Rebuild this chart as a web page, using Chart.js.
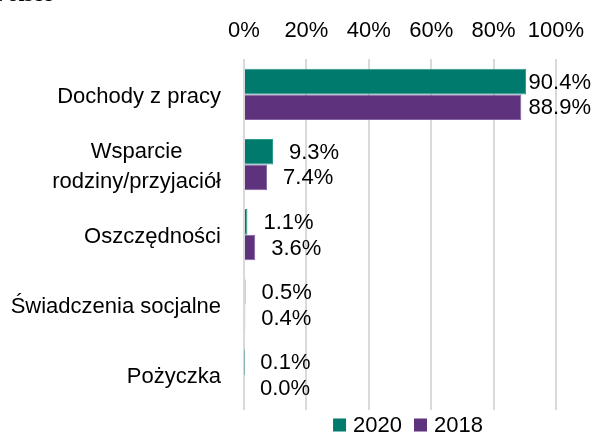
<!DOCTYPE html>
<html>
<head>
<meta charset="utf-8">
<script src="https://cdn.jsdelivr.net/npm/chart.js@4/dist/chart.umd.min.js"></script>
<style>
  html, body { margin: 0; padding: 0; background: #fff; }
  #wrap { width: 595px; height: 435px; }
</style>
</head>
<body>
<div id="wrap"><canvas id="chart" width="595" height="435"></canvas></div>
<script>
// categories (multi-line labels as arrays)
const categories = [
    ['Dochody z pracy'],
    ['Wsparcie', 'rodziny/przyjaciół'],
    ['Oszczędności'],
    ['Świadczenia socjalne'],
    ['Pożyczka']
];
const seriesNames = ['2020', '2018'];
const values2020 = [90.4, 9.3, 1.1, 0.5, 0.1];
const values2018 = [88.9, 7.4, 3.6, 0.4, 0.0];
const xTicks = [0, 20, 40, 60, 80, 100];

const colors = ['#007A6D', '#5E327D'];
const FONT = "'Liberation Sans', Arial, sans-serif";
const FONT_SIZE = 22;

// draws category labels, value labels, legend and the clipped heading
const labelsPlugin = {
    id: 'labels',
    afterDatasetsDraw(chart) {
        const ctx = chart.ctx;
        const area = chart.chartArea;
        const yScale = chart.scales.y;
        ctx.save();
        ctx.fillStyle = '#000';

        // heading, cut off at the top of the picture
        ctx.font = "bold 22px 'Liberation Serif', serif";
        ctx.textAlign = 'left';
        ctx.textBaseline = 'alphabetic';
        ctx.fillText('Polsce', -6, 1);

        // category labels, block right-aligned, lines centred
        ctx.font = FONT_SIZE + 'px ' + FONT;
        ctx.textBaseline = 'middle';
        ctx.textAlign = 'center';
        const lineH = 30;
        categories.forEach((lines, i) => {
            const yc = yScale.getPixelForValue(i) + 2;
            const w = Math.max(...lines.map(l => ctx.measureText(l).width));
            const cx = area.left - 23 - w / 2;
            lines.forEach((l, j) => {
                ctx.fillText(l, cx, yc + (j - (lines.length - 1) / 2) * lineH);
            });
        });

        // value labels next to each bar
        ctx.textAlign = 'left';
        chart.data.datasets.forEach((ds, di) => {
            const meta = chart.getDatasetMeta(di);
            meta.data.forEach((bar, i) => {
                const txt = ds.data[i].toFixed(1) + '%';
                const w = ctx.measureText(txt).width;
                const x = Math.min(bar.x + 16, chart.width - 4 - w);
                ctx.fillText(txt, x, bar.y + 1);
            });
        });

        // legend
        const box = 13, gap = 7, itemGap = 12;
        const widths = seriesNames.map(n => ctx.measureText(n).width);
        const total = widths.reduce((a, w) => a + box + gap + w, 0) + itemGap * (seriesNames.length - 1);
        let lx = (area.left + area.right) / 2 + 8 - total / 2;
        const ly = 425;
        seriesNames.forEach((n, i) => {
            ctx.fillStyle = colors[i];
            ctx.fillRect(lx, ly - box / 2, box, box);
            ctx.fillStyle = '#000';
            ctx.fillText(n, lx + box + gap, ly + 1);
            lx += box + gap + widths[i] + itemGap;
        });
        ctx.restore();
    }
};

new Chart(document.getElementById('chart'), {
    type: 'bar',
    data: {
        labels: categories,
        datasets: [
            {
                label: seriesNames[0],
                data: values2020,
                backgroundColor: colors[0],
                borderColor: '#2E9A8C',
                borderWidth: 1,
                categoryPercentage: 0.73,
                barPercentage: 1.0
            },
            {
                label: seriesNames[1],
                data: values2018,
                backgroundColor: colors[1],
                borderColor: '#8262A0',
                borderWidth: 1,
                categoryPercentage: 0.73,
                barPercentage: 1.0
            }
        ]
    },
    options: {
        indexAxis: 'y',
        responsive: false,
        animation: false,
        layout: {
            padding: { left: 244, right: 39, top: 3, bottom: 25 }
        },
        plugins: {
            legend: { display: false },
            tooltip: { enabled: false }
        },
        scales: {
            x: {
                position: 'top',
                min: 0,
                max: 100,
                afterBuildTicks(scale) {
                    scale.ticks = xTicks.map(v => ({ value: v }));
                },
                afterFit(scale) {
                    // layout padding already leaves room for the end labels
                    scale.paddingLeft = 0;
                    scale.paddingRight = 0;
                },
                ticks: {
                    callback: v => v + '%',
                    color: '#000',
                    font: { family: FONT, size: FONT_SIZE },
                    padding: 15,
                    maxRotation: 0
                },
                grid: {
                    color: '#D9D9D9',
                    lineWidth: 2,
                    drawTicks: false
                },
                border: { display: false }
            },
            y: {
                display: false
            }
        }
    },
    plugins: [labelsPlugin]
});
</script>
</body>
</html>
